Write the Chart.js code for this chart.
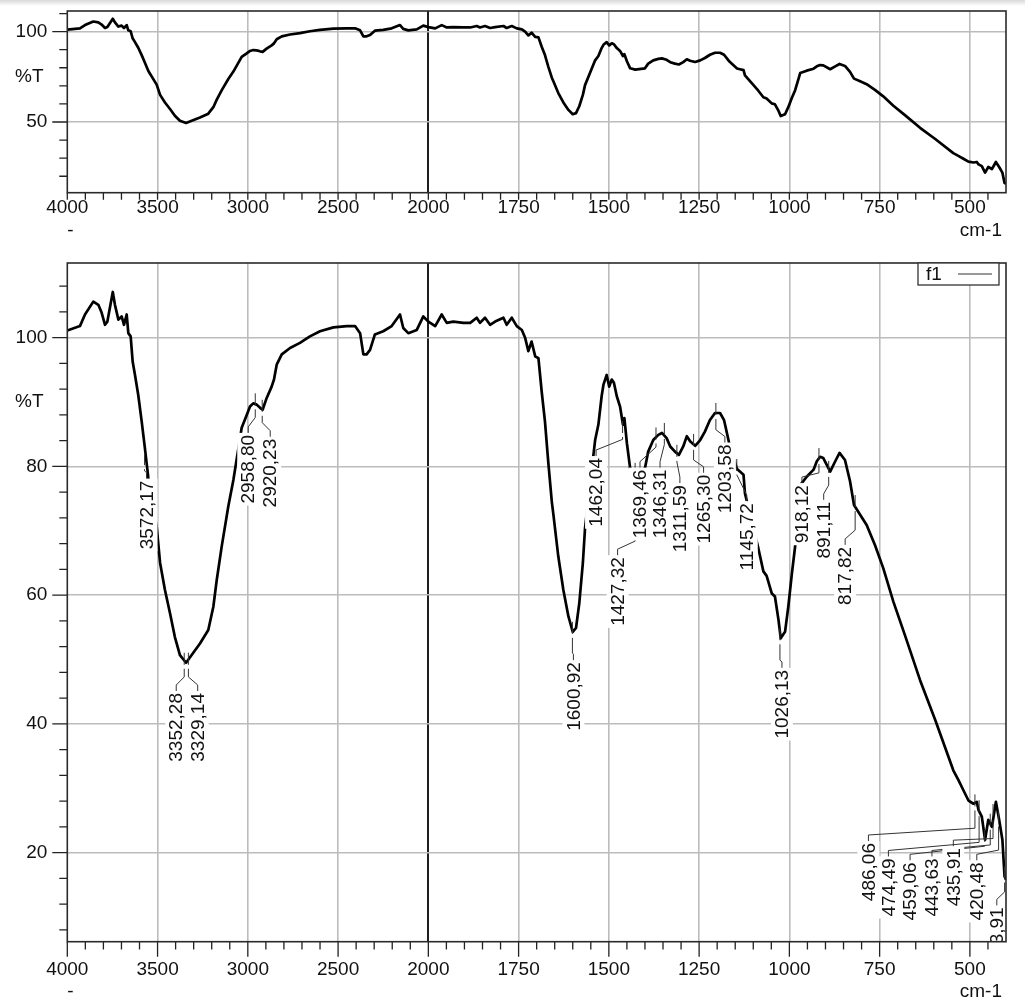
<!DOCTYPE html>
<html lang="en">
<head>
  <meta charset="UTF-8">
  <title>Espectro IR</title>
  <style>
    body {
      margin: 0;
      background-color: #fff;
      font-family: "Liberation Sans", Arial, sans-serif;
    }
    .shade {
      position: absolute; left: 0; top: 0; width: 1025px; height: 6px;
      background: linear-gradient(#d9d9d9, #fff);
    }
    #topBox { position: absolute; left: 0; top: 0; width: 1025px; height: 245px; }
    #bottomBox { position: absolute; left: 0; top: 245px; width: 1025px; height: 756px; }
  </style>
</head>
<body>
<script src="https://cdn.jsdelivr.net/npm/chart.js"></script>

<div class="shade"></div>
<div id="topBox"><canvas id="overview"></canvas></div>
<div id="bottomBox"><canvas id="spectrum"></canvas></div>

<script>
  // spectrum (cm-1, %T)
  const wavenumber = [
    4000, 3930, 3902, 3856, 3828, 3810, 3791, 3778, 3748, 3736, 3717, 3699, 3686, 3671, 3662, 3649,
    3638, 3625, 3607, 3588, 3570, 3551, 3505, 3486, 3459, 3431, 3404, 3376, 3342, 3311, 3265, 3219,
    3191, 3172, 3145, 3108, 3080, 3034, 3006, 2988, 2970, 2951, 2932, 2918, 2896, 2868, 2855, 2840,
    2812, 2766, 2711, 2656, 2600, 2526, 2452, 2406, 2378, 2360, 2342, 2323, 2296, 2250, 2203, 2157,
    2139, 2111, 2064, 2028, 2000, 1981, 1963, 1949, 1931, 1903, 1884, 1866, 1857, 1843, 1829, 1815,
    1792, 1783, 1769, 1755, 1741, 1732, 1723, 1714, 1704, 1695, 1686, 1677, 1668, 1658, 1654, 1640,
    1626, 1612, 1600, 1591, 1582, 1572, 1566, 1538, 1529, 1520, 1515, 1506, 1499, 1492, 1486, 1478,
    1469, 1461, 1457, 1450, 1441, 1427, 1400, 1391, 1377, 1363, 1353, 1340, 1330, 1317, 1306, 1294,
    1284, 1275, 1261, 1247, 1234, 1220, 1206, 1192, 1181, 1173, 1166, 1145, 1137, 1127, 1123, 1086,
    1072, 1063, 1049, 1040, 1030, 1024, 1012, 1003, 993, 984, 970, 952, 933, 924, 915, 906,
    887, 873, 861, 846, 832, 821, 804, 786, 763, 740, 712, 680, 638, 596, 546, 532,
    518, 504, 490, 481, 476, 467, 458, 449, 439, 433, 428, 419, 410, 404, 400
  ];
  const transmittance = [
    101.1, 101.8, 103.6, 105.6, 105.1, 103.9, 102.0, 102.5, 107.1, 105.1, 102.8, 103.3, 102.0, 103.6, 100.7, 100.2,
    96.3, 94.2, 91.1, 87.0, 82.8, 78.2, 70.7, 65.0, 60.8, 57.2, 53.5, 50.7, 49.5, 50.7, 52.5, 54.6,
    58.2, 62.4, 67.5, 73.8, 77.9, 86.0, 88.0, 89.3, 89.8, 89.6, 89.1, 88.8, 90.6, 92.4, 93.5, 95.8,
    97.4, 98.4, 99.2, 100.2, 101.0, 101.6, 101.8, 101.8, 100.7, 97.4, 97.4, 98.1, 100.5, 101.0, 101.8, 103.6,
    101.5, 100.7, 101.2, 103.3, 102.5, 101.8, 103.6, 102.3, 102.5, 102.3, 102.3, 103.1, 102.3, 103.1, 102.0, 102.5,
    103.1, 102.0, 103.1, 101.8, 101.2, 100.0, 97.9, 99.4, 97.1, 96.8, 91.6, 87.0, 80.8, 74.5, 72.7, 66.0,
    60.8, 56.7, 54.3, 54.9, 58.7, 65.0, 70.4, 84.1, 86.5, 90.9, 92.7, 94.2, 92.4, 93.5, 93.0, 90.9,
    89.3, 86.5, 87.5, 83.6, 79.7, 79.0, 79.7, 82.3, 84.1, 84.9, 85.2, 84.4, 83.1, 82.3, 81.8, 83.1,
    84.7, 83.9, 83.2, 84.1, 85.4, 87.2, 88.3, 88.3, 87.2, 85.2, 83.4, 79.6, 79.2, 78.7, 75.8, 67.3,
    63.7, 63.0, 60.3, 59.8, 56.1, 53.3, 54.3, 58.2, 63.4, 67.6, 77.1, 78.4, 79.5, 80.8, 81.5, 81.3,
    79.2, 80.8, 82.1, 81.0, 77.7, 74.0, 72.5, 70.9, 67.8, 64.2, 59.0, 53.8, 46.8, 40.6, 32.8, 31.3,
    29.7, 28.1, 27.6, 27.9, 26.6, 25.6, 22.0, 25.1, 24.0, 26.1, 27.9, 25.1, 22.0, 16.3, 15.8
  ];

  // picked peaks
  const peakWavenumber = [
    3572.17, 3352.28, 3329.14, 2958.80, 2920.23, 1600.92, 1462.04, 1427.32, 1369.46, 1346.31,
    1311.59, 1265.30, 1203.58, 1145.72, 1026.13, 918.12, 891.11, 817.82,
    486.06, 474.49, 459.06, 443.63, 435.91, 420.48, 403.91
  ];
  const peakTransmittance = [
    80.5, 49.5, 49.5, 89.8, 88.8, 54.3, 85.5, 79.0, 84.5, 85.2,
    81.8, 83.5, 88.3, 79.6, 53.3, 81.3, 79.3, 74.0,
    27.5, 26.6, 22.0, 24.5, 26.0, 25.0, 16.3
  ];

  const xTickLabels = [4000, 3500, 3000, 2500, 2000, 1750, 1500, 1250, 1000, 750, 500];
  const overviewYLabels = [100, 50];
  const spectrumYLabels = [100, 80, 60, 40, 20];
  const yTitle = '%T';
  const xUnit = 'cm-1';
  const legendName = 'f1';

  // label placement: [x shift px, label top %T, elbow %T]
  const labelLayout = [
    [2, 77.8, 79.3], [-8, 44.8, 47.3], [9.3, 44.8, 47.3], [-7, 84.9, 87.6], [8, 84.3, 86.8],
    [1, 49.6, 51.0], [-26.5, 81.3, 84.2], [-17.5, 65.9, 68.4], [-16, 79.5, 83.0], [-4.3, 79.5, 83.4],
    [3, 77.1, 80.7], [10, 78.7, 81.0], [9, 83.4, 85.7], [10, 74.3, 78.7], [2, 48.4, 49.9],
    [-17, 77.1, 79.0], [-5, 74.5, 77.1], [-10, 67.5, 70.1],
    [-106.5, 21.5, 23.8], [-90.7, 19.1, 21.6], [-74.6, 18.5, 21.0], [-58.3, 19.1, 21.2],
    [-39.7, 20.7, 22.2], [-21.8, 18.5, 20.4], [-7.8, 11.5, 13.9]
  ];

  const FONT = '"Liberation Sans", Arial, sans-serif';

  // 4000-2000 is drawn at half the scale of 2000-400
  function toU(w) { return w >= 2000 ? (4000 - w) / 2 : 1000 + (2000 - w); }

  const points = wavenumber.map((w, i) => ({ x: toU(w), y: transmittance[i] }));
  const majorU = xTickLabels.map(toU);

  function noPad(s) {
    s.paddingTop = 0; s.paddingBottom = 0; s.paddingLeft = 0; s.paddingRight = 0;
  }

  function xScale(height, pad) {
    return {
      type: 'linear', min: 0, max: 2600,
      afterBuildTicks: s => {
        let t = [];
        for (let u = 0; u <= 2550; u += 50) t.push({ value: u });
        s.ticks = t;
      },
      afterFit: s => { s.height = height; noPad(s); },
      ticks: {
        autoSkip: false, maxRotation: 0, padding: pad, color: '#111',
        font: { family: FONT, size: 19 },
        callback: v => {
          let i = majorU.indexOf(v);
          return i < 0 ? '' : String(xTickLabels[i]);
        }
      },
      grid: {
        drawTicks: false,
        color: c => {
          let v = c.tick.value;
          if (v === 0) return 'rgba(0,0,0,0)';
          if (v === 1000) return '#1e1e1e';
          return majorU.includes(v) ? '#bcbcbc' : 'rgba(0,0,0,0)';
        },
        lineWidth: c => c.tick.value === 1000 ? 2 : 1.6
      },
      border: { display: false }
    };
  }

  function yScale(min, max, first, step, major, titleAt) {
    return {
      type: 'linear', min: min, max: max,
      afterBuildTicks: s => {
        let t = [];
        for (let v = first; v <= max; v += step) t.push(v);
        t.push(titleAt);
        t.sort((a, b) => a - b);
        s.ticks = t.map(v => ({ value: v }));
      },
      afterFit: s => { s.width = 67.3; noPad(s); },
      ticks: {
        autoSkip: false, padding: 20, color: '#111',
        font: { family: FONT, size: 19 },
        callback: v => major.includes(v) ? String(v) : (v === titleAt ? yTitle + '\u2009' : '')
      },
      grid: {
        drawTicks: false,
        color: c => major.includes(c.tick.value) ? '#bcbcbc' : 'rgba(0,0,0,0)',
        lineWidth: 1.6
      },
      border: { display: false }
    };
  }

  // tick marks, plot frame and unit texts
  const axisFrame = {
    id: 'axisFrame',
    afterDraw(chart, args, opts) {
      const ctx = chart.ctx, a = chart.chartArea, x = chart.scales.x, y = chart.scales.y;
      ctx.save();
      ctx.strokeStyle = '#222';
      ctx.lineWidth = 1.3;
      ctx.beginPath();
      x.ticks.forEach(t => {
        let px = x.getPixelForValue(t.value);
        let len = majorU.includes(t.value) ? opts.xMajor : opts.xMinor;
        ctx.moveTo(px, a.bottom);
        ctx.lineTo(px, a.bottom + len);
      });
      y.ticks.forEach(t => {
        if (t.value === opts.titleAt) return;
        let py = y.getPixelForValue(t.value);
        let len = opts.yMajor.includes(t.value) ? 15 : 8;
        ctx.moveTo(a.left - len, py);
        ctx.lineTo(a.left, py);
      });
      ctx.stroke();
      ctx.strokeStyle = '#2a2a2a';
      ctx.lineWidth = 1.6;
      ctx.strokeRect(a.left, a.top, a.width, a.height);

      ctx.fillStyle = '#111';
      ctx.font = '19px ' + FONT;
      ctx.textBaseline = 'middle';
      ctx.textAlign = 'center';
      ctx.fillText('-', a.left + 3, a.bottom + opts.unitDy);
      ctx.textAlign = 'right';
      ctx.fillText(xUnit, a.right - 4, a.bottom + opts.unitDy);
      ctx.restore();
    }
  };

  // peak marks with leader lines, and the small legend box
  const peakLabels = {
    id: 'peakLabels',
    afterDatasetsDraw(chart) {
      const ctx = chart.ctx, a = chart.chartArea, x = chart.scales.x, y = chart.scales.y;
      ctx.save();
      ctx.beginPath();
      ctx.rect(a.left, a.top, a.width, a.height);
      ctx.clip();

      let spots = peakWavenumber.map((w, i) => {
        let lay = labelLayout[i];
        let px = x.getPixelForValue(toU(w));
        return {
          px: px,
          py: y.getPixelForValue(peakTransmittance[i]),
          lx: px + lay[0],
          ly: y.getPixelForValue(lay[1]),
          ey: y.getPixelForValue(lay[2]),
          text: w.toFixed(2).replace('.', ',')
        };
      });

      ctx.strokeStyle = '#333';
      ctx.lineWidth = 1;
      spots.forEach(s => {
        ctx.beginPath();
        ctx.moveTo(s.px, s.py - 10);
        ctx.lineTo(s.px, s.py + 2);
        ctx.moveTo(s.px, s.py + 6);
        ctx.lineTo(s.px, s.ey);
        ctx.lineTo(s.lx, s.ly - 8);
        ctx.lineTo(s.lx, s.ly);
        ctx.stroke();
      });

      ctx.font = '19px ' + FONT;
      spots.forEach(s => {
        ctx.save();
        ctx.translate(s.lx, s.ly);
        ctx.rotate(-Math.PI / 2);
        let wdt = ctx.measureText(s.text).width;
        ctx.fillStyle = '#fff';
        ctx.fillRect(-wdt - 2, -11, wdt + 4, 22);
        ctx.fillStyle = '#111';
        ctx.textAlign = 'right';
        ctx.textBaseline = 'middle';
        ctx.fillText(s.text, 0, 1);
        ctx.restore();
      });
      ctx.restore();
    },
    afterDraw(chart) {
      const ctx = chart.ctx, a = chart.chartArea;
      let bx = a.right - 88, by = a.top, bw = 81, bh = 22;
      ctx.save();
      ctx.fillStyle = '#fff';
      ctx.fillRect(bx, by, bw, bh);
      ctx.strokeStyle = '#333';
      ctx.lineWidth = 1.3;
      ctx.strokeRect(bx, by, bw, bh);
      ctx.fillStyle = '#111';
      ctx.font = '19px ' + FONT;
      ctx.textBaseline = 'middle';
      ctx.fillText(legendName, bx + 8, by + bh / 2 + 1);
      ctx.strokeStyle = '#777';
      ctx.lineWidth = 1.5;
      ctx.beginPath();
      ctx.moveTo(bx + 40, by + bh / 2);
      ctx.lineTo(bx + 74, by + bh / 2);
      ctx.stroke();
      ctx.restore();
    }
  };

  function lineDataset() {
    return {
      label: legendName,
      data: points,
      borderColor: '#000',
      borderWidth: 2.7,
      borderJoinStyle: 'round',
      pointRadius: 0,
      tension: 0
    };
  }

  new Chart(document.getElementById('overview'), {
    type: 'line',
    data: { datasets: [lineDataset()] },
    options: {
      responsive: true,
      maintainAspectRatio: false,
      animation: false,
      layout: { padding: { top: 11, right: 19, left: 0, bottom: 0 } },
      scales: {
        x: xScale(52.3, 4),
        y: yScale(10.9, 111.4, 20, 10, overviewYLabels, 75)
      },
      plugins: {
        legend: { display: false },
        tooltip: { enabled: false },
        axisFrame: { xMajor: 7, xMinor: 7, yMajor: overviewYLabels, titleAt: 75, unitDy: 38 }
      }
    },
    plugins: [axisFrame]
  });

  new Chart(document.getElementById('spectrum'), {
    type: 'line',
    data: { datasets: [lineDataset()] },
    options: {
      responsive: true,
      maintainAspectRatio: false,
      animation: false,
      layout: { padding: { top: 18, right: 19, left: 0, bottom: 0 } },
      scales: {
        x: xScale(59.3, 17),
        y: yScale(6.17, 111.6, 8, 4, spectrumYLabels, 90)
      },
      plugins: {
        legend: { display: false },
        tooltip: { enabled: false },
        axisFrame: { xMajor: 15, xMinor: 7.7, yMajor: spectrumYLabels, titleAt: 90, unitDy: 50 }
      }
    },
    plugins: [axisFrame, peakLabels]
  });
</script>
</body>
</html>
